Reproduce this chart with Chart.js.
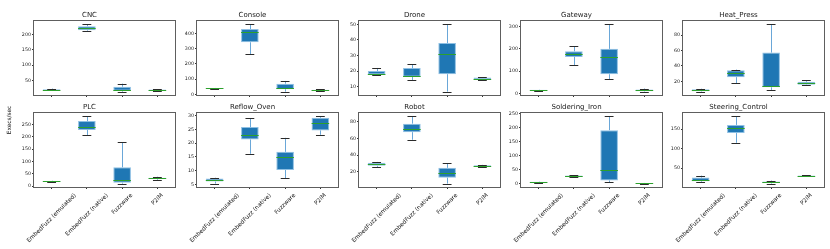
<!DOCTYPE html>
<html><head><meta charset="utf-8">
<script src="https://cdn.jsdelivr.net/npm/chart.js@4.4.0/dist/chart.umd.min.js"></script>
<style>
html,body{margin:0;padding:0;background:#fff;width:830px;height:249px;overflow:hidden;position:relative;font-family:"DejaVu Sans",sans-serif;}
.p{position:absolute}
</style></head><body>
<script>
// Categories (x axis)
const categories = ['EmbedFuzz (emulated)', 'EmbedFuzz (native)', 'Fuzzware', 'P2IM'];
const panelTitles = ['CNC', 'Console', 'Drone', 'Gateway', 'Heat_Press', 'PLC', 'Reflow_Oven', 'Robot', 'Soldering_Iron', 'Steering_Control'];
const yAxisTitle = 'Execs/sec';

// Each row: [whisker low, Q1, median, Q3, whisker high] per category
const CNC = [[18, 19, 20.5, 22, 24], [212, 214, 220, 227, 233], [14, 17, 19, 30, 40], [15, 16, 18, 21, 22]];
const Console = [[36, 38, 40, 42, 43], [264, 342, 407, 428, 459], [19, 35, 40, 71, 89], [20, 24, 27, 31, 33]];
const Drone = [[17.2, 17.8, 18.2, 20, 22], [14.3, 16.3, 16.6, 21.9, 24.4], [6.8, 18, 31, 38, 50], [14.2, 14.6, 15.2, 15.8, 16.2]];
const Gateway = [[12, 13, 14, 16, 17], [127, 164, 179, 189, 211], [63, 86, 162, 200, 310], [8, 10, 14, 18, 22]];
const Heat_Press = [[6.7, 7.3, 8.5, 9.8, 10.5], [17.8, 25.5, 30.6, 34.4, 35.3], [8.9, 12.3, 13.6, 57.4, 94], [15.3, 15.7, 17.4, 19.5, 21.7]];
const PLC = [[17, 18, 19, 21, 22], [206, 227, 240, 263, 282], [10, 14, 23, 76, 178], [26, 29, 31, 34, 38]];
const Reflow_Oven = [[5.25, 6.0, 6.4, 7.1, 7.4], [16.1, 21.3, 23, 25.8, 29.0], [7.2, 10.2, 15.1, 16.8, 21.9], [23, 24.6, 27.4, 29.2, 29.7]];
const Robot = [[25.9, 27.1, 29, 30.7, 31.8], [58.3, 67.4, 70.9, 77.6, 86.3], [5.8, 12.9, 18, 24.7, 30.2], [26.3, 26.6, 27.1, 27.8, 28.3]];
const Soldering_Iron = [[4, 5, 6, 7, 8], [24, 25, 27, 29, 30], [5.6, 11.6, 50, 190, 239], [0.5, 1, 1.5, 2.5, 3]];
const Steering_Control = [[14.4, 16.2, 19.5, 25.6, 30.7], [115, 140, 152, 161, 183], [10, 11.5, 13.5, 15.5, 18], [28.5, 29.5, 30.5, 31, 31.5]];

// Y tick labels per panel
const ticksCNC = [50, 100, 150, 200];
const ticksConsole = [0, 100, 200, 300, 400];
const ticksDrone = [10, 20, 30, 40, 50];
const ticksGateway = [0, 100, 200, 300];
const ticksHeat_Press = [20, 40, 60, 80];
const ticksPLC = [0, 50, 100, 150, 200, 250];
const ticksReflow_Oven = [5, 10, 15, 20, 25, 30];
const ticksRobot = [20, 40, 60, 80];
const ticksSoldering_Iron = [0, 50, 100, 150, 200, 250];
const ticksSteering_Control = [50, 100, 150];

const panelStats = [CNC, Console, Drone, Gateway, Heat_Press, PLC, Reflow_Oven, Robot, Soldering_Iron, Steering_Control];
const panelTicks = [ticksCNC, ticksConsole, ticksDrone, ticksGateway, ticksHeat_Press, ticksPLC, ticksReflow_Oven, ticksRobot, ticksSoldering_Iron, ticksSteering_Control];

// Layout
const colLefts = [34, 197, 359, 521, 683];
const rowTops = [21, 113];
const PW = 141, PH = 74, YW = 30, TH = 12;
const FONT = "'DejaVu Sans', sans-serif";
const BOX_FILL = '#1f77b4', BOX_EDGE = '#8dbfe3', WHISK = '#6aa7d8', CAP = '#2a2a2a', MED = '#2ca02c', SPINE = '#5e5e5e';
const YLAB_PAGE_X = 9, YLAB_PAGE_Y = 120;

Chart.defaults.font.family = FONT;

function hline(ctx, x1, x2, y) { y = Math.round(y) + 0.5; ctx.beginPath(); ctx.moveTo(x1, y); ctx.lineTo(x2, y); ctx.stroke(); }
function vline(ctx, x, y1, y2) { x = Math.round(x) + 0.5; ctx.beginPath(); ctx.moveTo(x, y1); ctx.lineTo(x, y2); ctx.stroke(); }

const boxPlugin = {
  id: 'boxparts',
  afterDatasetsDraw(chart) {
    const ctx = chart.ctx, ys = chart.scales.y;
    const meta = chart.getDatasetMeta(0);
    const stats = chart.data.datasets[0].stats;
    ctx.save();
    ctx.lineWidth = 1;
    stats.forEach((s, i) => {
      const el = meta.data[i];
      const x = el.x, hw = el.width / 2, cw = hw / 2;
      const yLo = ys.getPixelForValue(s[0]), yQ1 = ys.getPixelForValue(s[1]), yMed = ys.getPixelForValue(s[2]), yQ3 = ys.getPixelForValue(s[3]), yHi = ys.getPixelForValue(s[4]);
      ctx.strokeStyle = WHISK;
      vline(ctx, x, yQ3, yHi);
      vline(ctx, x, yQ1, yLo);
      ctx.strokeStyle = CAP;
      hline(ctx, x - cw, x + cw, yHi);
      hline(ctx, x - cw, x + cw, yLo);
      ctx.strokeStyle = MED;
      hline(ctx, x - hw, x + hw, yMed);
    });
    ctx.restore();
  },
  afterDraw(chart, args, opts) {
    const ctx = chart.ctx, a = chart.chartArea;
    ctx.save();
    ctx.strokeStyle = SPINE; ctx.lineWidth = 1;
    ctx.strokeRect(Math.round(a.left) - 0.5, Math.round(a.top) - 0.5, Math.round(a.right - a.left) + 1, Math.round(a.bottom - a.top) + 1);
    if (opts.labels) {
      const xs = chart.scales.x;
      const size = 5.8;
      ctx.font = size + 'px ' + FONT;
      ctx.fillStyle = '#111';
      ctx.textAlign = 'center';
      ctx.textBaseline = 'middle';
      chart.data.labels.forEach((lab, i) => {
        const x = xs.getPixelForTick(i);
        const w = ctx.measureText(lab).width;
        const h = size * 1.2;
        const cy = a.bottom + 5 + (w + h) * 0.35355;
        ctx.save();
        ctx.translate(x, cy);
        ctx.rotate(-Math.PI / 4);
        ctx.fillText(lab, 0, 0);
        ctx.restore();
      });
    }
    if (opts.ylab) {
      ctx.font = '5.8px ' + FONT;
      ctx.fillStyle = '#111';
      ctx.textAlign = 'center';
      ctx.textBaseline = 'middle';
      ctx.translate(opts.ylab.x, opts.ylab.y);
      ctx.rotate(-Math.PI / 2);
      ctx.fillText(yAxisTitle, 0, 0);
    }
    ctx.restore();
  }
};

panelStats.forEach((stats, p) => {
  const row = Math.floor(p / 5), col = p % 5;
  const bottomRow = row === 1;
  const XH = bottomRow ? 62 : 4;
  const L = colLefts[col], T = rowTops[row];
  const div = document.createElement('div');
  div.className = 'p';
  const cw = YW + PW + 2, ch = TH + PH + XH;
  const dl = L - YW, dt = T - TH;
  div.style.left = dl + 'px';
  div.style.top = dt + 'px';
  div.style.width = cw + 'px';
  div.style.height = ch + 'px';
  const canvas = document.createElement('canvas');
  canvas.width = cw; canvas.height = ch;
  canvas.style.width = cw + 'px'; canvas.style.height = ch + 'px';
  div.appendChild(canvas);
  document.body.appendChild(div);

  let lo = Infinity, hi = -Infinity;
  stats.forEach(s => { lo = Math.min(lo, s[0]); hi = Math.max(hi, s[4]); });
  const pad = (hi - lo) * 0.05;
  const tickVals = panelTicks[p];
  const ylab = (row === 1 && col === 0) ? { x: YLAB_PAGE_X - dl, y: YLAB_PAGE_Y - dt } : null;

  new Chart(canvas, {
    type: 'bar',
    data: {
      labels: categories,
      datasets: [{
        data: stats.map(s => [s[1], s[3]]),
        stats: stats,
        backgroundColor: BOX_FILL,
        borderColor: BOX_EDGE,
        borderWidth: 1,
        borderSkipped: false,
        barPercentage: 0.5,
        categoryPercentage: 1.0
      }]
    },
    options: {
      responsive: false,
      animation: false,
      devicePixelRatio: 1,
      events: [],
      layout: { padding: { top: 0, left: 0, right: 2, bottom: 0 } },
      plugins: {
        legend: { display: false },
        tooltip: { enabled: false },
        title: { display: true, text: panelTitles[p], color: '#1a1a1a', font: { family: FONT, size: 7, lineHeight: 1, weight: 'normal' }, padding: { top: 2.5, bottom: 2.5 } },
        boxparts: { labels: bottomRow, ylab: ylab }
      },
      scales: {
        x: {
          type: 'category', offset: true,
          grid: { display: true, offset: false, drawOnChartArea: false, drawTicks: true, tickLength: 2, color: '#333' },
          border: { display: false },
          ticks: { display: false },
          afterFit(s) { s.height = XH; }
        },
        y: {
          type: 'linear', min: lo - pad, max: hi + pad,
          grid: { display: true, drawOnChartArea: false, drawTicks: true, tickLength: 2, color: '#333' },
          border: { display: false },
          ticks: { font: { family: FONT, size: 4.8 }, color: '#222', padding: 1 },
          afterBuildTicks(s) { s.ticks = tickVals.map(v => ({ value: v })); },
          afterFit(s) { s.width = YW; }
        }
      }
    },
    plugins: [boxPlugin]
  });
});
</script>
</body></html>
